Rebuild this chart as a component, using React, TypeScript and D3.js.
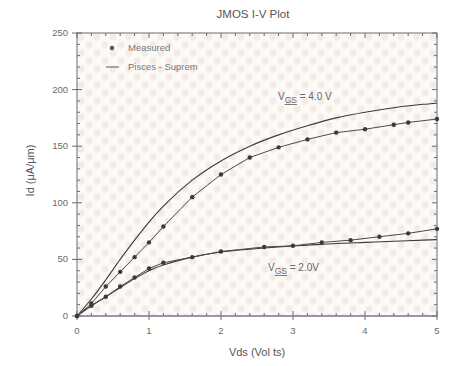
import React from "react";
import * as d3 from "d3";

const vdsMeas4 = [0, 0.2, 0.4, 0.6, 0.8, 1.0, 1.2, 1.6, 2.0, 2.4, 2.8, 3.2, 3.6, 4.0, 4.4, 4.6, 5.0];
const idMeas4 = [0, 11, 26, 39, 52, 65, 79, 105, 125, 140, 149, 156, 162, 165, 169, 171, 174];

const vdsMeas2 = [0, 0.2, 0.4, 0.6, 0.8, 1.0, 1.2, 1.6, 2.0, 2.6, 3.0, 3.4, 3.8, 4.2, 4.6, 5.0];
const idMeas2 = [0, 9, 17, 26, 34, 42, 47, 52, 57, 61, 62, 65, 67, 70, 73, 77];

const vdsSim = [0, 0.2, 0.4, 0.6, 0.8, 1.0, 1.2, 1.6, 2.0, 2.4, 2.8, 3.2, 3.6, 4.0, 4.4, 4.8, 5.0];
const idSim4 = [0, 15, 32, 50, 67, 83, 97, 120, 137, 150, 160, 168, 175, 180, 184, 187, 188];
const idSim2 = [0, 9, 17, 25, 33, 40, 45, 52, 56.5, 59, 61, 62.5, 64, 65, 66, 67, 67.5];

const xTicks = [0, 1, 2, 3, 4, 5];
const yTicks = [0, 50, 100, 150, 200, 250];
const legendLabels = ["Measured", "Pisces - Suprem"];

type Pt = { x: number; y: number };
const zip = (xs: number[], ys: number[]): Pt[] => xs.map((x, i) => ({ x, y: ys[i] }));

const W = 450;
const H = 366;
const margin = { top: 33, right: 13, bottom: 50, left: 77 };
const innerW = W - margin.left - margin.right;
const innerH = H - margin.top - margin.bottom;

const App = () => {
    const xScale = d3.scaleLinear().domain([0, 5]).range([0, innerW]);
    const yScale = d3.scaleLinear().domain([0, 250]).range([innerH, 0]);
    const line = d3.line<Pt>().x(d => xScale(d.x)).y(d => yScale(d.y));
    const smooth = d3.line<Pt>().x(d => xScale(d.x)).y(d => yScale(d.y)).curve(d3.curveMonotoneX);

    const meas = [zip(vdsMeas4, idMeas4), zip(vdsMeas2, idMeas2)];
    const sims = [zip(vdsSim, idSim4), zip(vdsSim, idSim2)];

    const xMinor = d3.range(0, 5.0001, 0.2);
    const yMinor = d3.range(0, 250.001, 10);
    const font = "'Liberation Sans', Arial, sans-serif";
    const grey = "#6a6a6a";

    return (
        <svg width={W} height={H} style={{ position: "absolute", left: 0, top: 0, background: "#fff" }}
             fontFamily={font}>
            <defs>
                <pattern id="dots" width={16} height={16} patternUnits="userSpaceOnUse">
                    <rect width={16} height={16} fill="#fcfaf7"/>
                    <circle cx={4} cy={4} r={3.4} fill="#f5ebe6"/>
                    <circle cx={12} cy={12} r={3.4} fill="#f5ebe6"/>
                </pattern>
            </defs>
            <text x={W / 2 + 28} y={18} textAnchor="middle" fontSize={11.5} fill="#555">JMOS I-V Plot</text>
            <g transform={`translate(${margin.left},${margin.top})`}>
                <rect width={innerW} height={innerH} fill="url(#dots)"/>

                {/* ticks on all four sides, pointing in */}
                {xMinor.map((t, i) => {
                    const len = Math.abs(t - Math.round(t)) < 1e-6 ? 5 : 3;
                    return <g key={"xm" + i}>
                        <line x1={xScale(t)} x2={xScale(t)} y1={innerH} y2={innerH - len} stroke={grey}/>
                        <line x1={xScale(t)} x2={xScale(t)} y1={0} y2={len} stroke={grey}/>
                    </g>;
                })}
                {yMinor.map((t, i) => {
                    const len = t % 50 === 0 ? 5 : 3;
                    return <g key={"ym" + i}>
                        <line x1={0} x2={len} y1={yScale(t)} y2={yScale(t)} stroke={grey}/>
                        <line x1={innerW} x2={innerW - len} y1={yScale(t)} y2={yScale(t)} stroke={grey}/>
                    </g>;
                })}
                {yTicks.map(t => (
                    <g key={"yt" + t} transform={`translate(0,${yScale(t)})`}>
                        <line x2={-5} stroke={grey}/>
                        <text x={-9} dy="0.32em" textAnchor="end" fontSize={9.5} fill={grey}>{t}</text>
                    </g>
                ))}
                {xTicks.map(t => (
                    <g key={"xt" + t} transform={`translate(${xScale(t)},${innerH})`}>
                        <line y2={4} stroke={grey}/>
                        <text y={18} textAnchor="middle" fontSize={9.5} fill={grey}>{t}</text>
                    </g>
                ))}
                <rect width={innerW} height={innerH} fill="none" stroke={grey} strokeWidth={1}/>
                <line x1={0} x2={innerW} y1={innerH} y2={innerH} stroke="#7a7fa0" strokeWidth={1.2}/>

                {sims.map((s, i) => (
                    <path key={"s" + i} d={smooth(s) || ""} fill="none" stroke="#3a3a3a" strokeWidth={1.1}/>
                ))}
                {meas.map((s, i) => (
                    <g key={"m" + i}>
                        <path d={line(s) || ""} fill="none" stroke="#4a4a4a" strokeWidth={1}/>
                        {s.map((d, j) => (
                            <circle key={j} cx={xScale(d.x)} cy={yScale(d.y)} r={2.2} fill="#3a3a3a"/>
                        ))}
                    </g>
                ))}

                {/* legend */}
                <circle cx={35} cy={15} r={2.2} fill="#555"/>
                <text x={51} y={15} dy="0.32em" fontSize={9.5} fill="#777">{legendLabels[0]}</text>
                <line x1={29} x2={42} y1={34} y2={34} stroke="#555"/>
                <text x={51} y={34} dy="0.32em" fontSize={9.5} fill="#777">{legendLabels[1]}</text>

                <text x={201} y={67} fontSize={10} fill="#666">
                    V<tspan fontSize={8.5} dy={3} textDecoration="underline">GS</tspan><tspan dy={-3}> = 4.0 V</tspan>
                </text>
                <text x={191} y={238} fontSize={10} fill="#666">
                    V<tspan fontSize={8.5} dy={3} textDecoration="underline">GS</tspan><tspan dy={-3}> = 2.0V</tspan>
                </text>
            </g>
            <text x={margin.left + innerW / 2} y={356} textAnchor="middle" fontSize={11} fill="#555">Vds (Vol ts)</text>
            <text transform={`translate(34,${margin.top + innerH / 2 - 4}) rotate(-90)`} textAnchor="middle"
                  fontSize={11} fill="#555">Id (μA/μm)</text>
        </svg>
    );
};

export default App;
